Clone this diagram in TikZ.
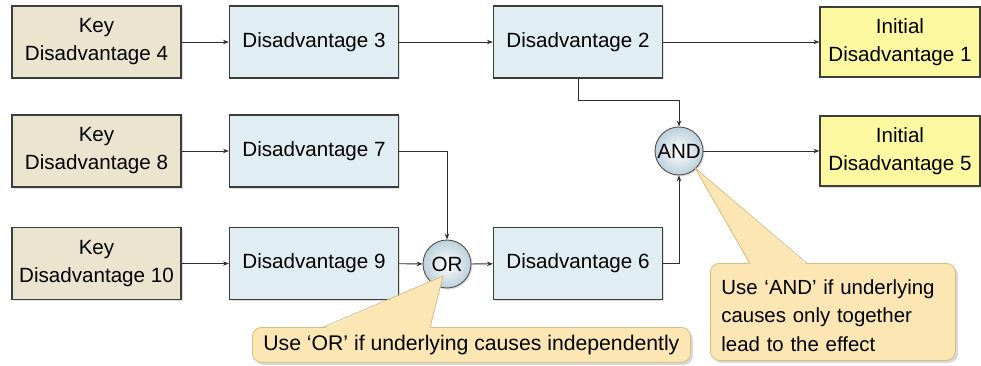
\documentclass[tikz,border=0pt]{standalone}
\usepackage{fontspec}
\setmainfont{Liberation Sans}
\usetikzlibrary{arrows.meta,shadows}
\definecolor{keyfill}{HTML}{EBE4CF}
\definecolor{midfill}{HTML}{E0EEF3}
\definecolor{initfill}{HTML}{FCF9A0}
\definecolor{calloutfill}{HTML}{FBE6B4}
\definecolor{calloutedge}{HTML}{D8BE80}
\definecolor{boxedge}{HTML}{3C3C3C}
\definecolor{linecol}{HTML}{303030}
\definecolor{gateouter}{HTML}{BCD0DA}
\tikzset{
  basebox/.style={draw=boxedge, line width=1.2pt, minimum height=72, align=center,
    font=\fontsize{20.6}{28}\selectfont, inner sep=0pt,
    drop shadow={opacity=0.25, shadow xshift=1.5pt, shadow yshift=-1.5pt}},
  keybox/.style={basebox, fill=keyfill, minimum width=169},
  midbox/.style={basebox, fill=midfill, minimum width=169},
  initbox/.style={basebox, fill=initfill, minimum width=160, minimum height=70},
  gate/.style={circle, draw=boxedge!90, line width=0.9pt, minimum size=48, inner sep=0pt,
    inner color=white, outer color=gateouter, font=\fontsize{20.6}{24}\selectfont,
    drop shadow={opacity=0.25, shadow xshift=1.5pt, shadow yshift=-1.5pt}},
  arr/.style={draw=linecol, line width=0.8pt, -{Stealth[length=6pt,width=4.5pt]}},
  callout/.style={rectangle, rounded corners=9pt, fill=calloutfill, draw=calloutedge,
    line width=0.8pt, align=left, inner sep=0pt,
    drop shadow={opacity=0.3, shadow xshift=2.5pt, shadow yshift=-2.5pt}},
  wedge/.style={fill=calloutfill},
  wedgeedge/.style={draw=calloutedge, line width=0.8pt, line join=miter},
}
\begin{document}
\begin{tikzpicture}[x=1pt,y=-1pt]
\useasboundingbox (0,0) rectangle (981,366);

% first row
\node[keybox]  (k4) at (96.5,42)  {Key\\Disadvantage 4};
\node[midbox]  (d3) at (314,42)   {Disadvantage 3};
\node[midbox]  (d2) at (578,42)   {Disadvantage 2};
\node[initbox] (i1) at (900,42)   {Initial\\Disadvantage 1};

% second row
\node[keybox]  (k8) at (96.5,151) {Key\\Disadvantage 8};
\node[midbox]  (d7) at (314,151)  {Disadvantage 7};
\node[gate]    (and) at (679,151) {AND};
\node[initbox] (i5) at (900,151)  {Initial\\Disadvantage 5};

% third row
\node[keybox]  (k10) at (96.5,263.5) {Key\\Disadvantage 10};
\node[midbox]  (d9) at (314,263.5)   {Disadvantage 9};
\node[gate]    (or) at (447,264)     {OR};
\node[midbox]  (d6) at (578,263.5)   {Disadvantage 6};

% connectors
\draw[arr] (k4) -- (d3);
\draw[arr] (d3) -- (d2);
\draw[arr] (d2) -- (i1);
\draw[arr] (d2.south) -- ++(0,22) -| (and.north);
\draw[arr] (k8) -- (d7);
\draw[arr] (d7.east) -| (or.north);
\draw[arr] (and) -- (i5);
\draw[arr] (k10) -- (d9);
\draw[arr] (d9) -- (or);
\draw[arr] (or) -- (d6);
\draw[arr] (d6.east) -| (and.south);

% callout for OR
\node[callout, minimum width=438, minimum height=35, anchor=north west,
      font=\fontsize{21.2}{28}\selectfont] (orcall) at (252,327)
      {Use ‘OR’ if underlying causes independently};
\coordinate (ortip) at (443,276);
\fill[wedge] (323,329) -- (ortip) -- (430,329) -- cycle;
\draw[wedgeedge] (323,327.4) -- (ortip) -- (430,327.4);

% callout for AND
\node[callout, minimum width=243, minimum height=97, anchor=north west,
      font=\fontsize{20.4}{28.6}\selectfont, text height=22pt,
      text width=223, inner xsep=11pt] (andcall) at (710,263)
      {Use ‘AND’ if underlying\\causes only together\\lead to the effect};
\coordinate (andtip) at (695,168);
\fill[wedge] (750,265) -- (andtip) -- (807,265) -- cycle;
\draw[wedgeedge] (750,263.4) -- (andtip) -- (807,263.4);
\end{tikzpicture}
\end{document}
